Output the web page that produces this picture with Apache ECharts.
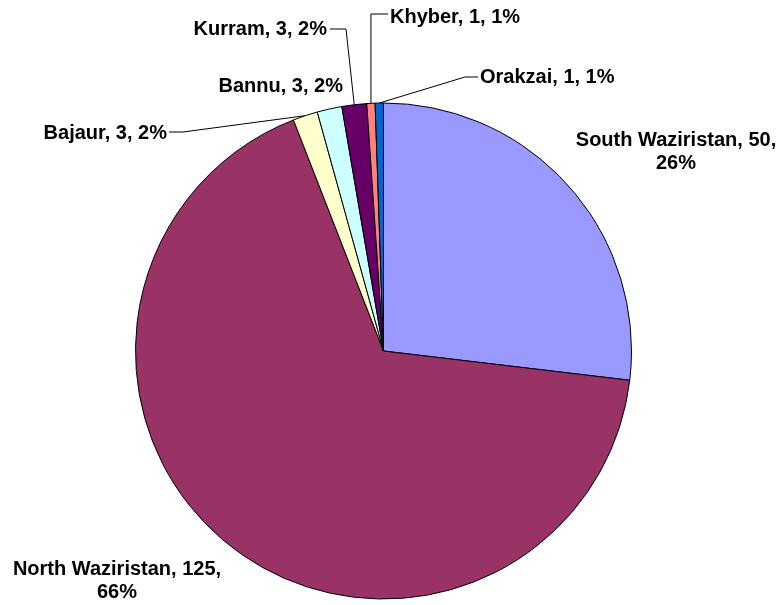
<!DOCTYPE html>
<html>
<head>
<meta charset="utf-8">
<script src="https://cdn.jsdelivr.net/npm/echarts@6/dist/echarts.min.js"></script>
<style>
  html, body { margin: 0; padding: 0; background: #fff; }
  #chart { width: 782px; height: 605px; }
</style>
</head>
<body>
<div id="chart"></div>
<script>
// ---- data ----
var categories = ['South Waziristan', 'North Waziristan', 'Bajaur', 'Bannu', 'Kurram', 'Khyber', 'Orakzai'];
var values = [50, 125, 3, 3, 3, 1, 1];
var percentLabels = ['26%', '66%', '2%', '2%', '2%', '1%', '1%'];
var colors = ['#9999FF', '#993366', '#FFFFCC', '#CCFFFF', '#660066', '#FF8080', '#0066CC'];
var twoLineLabels = [true, true, false, false, false, false, false];
var showLeader = [false, false, true, false, true, true, true];

// ---- label placement (layout only) ----
var labelPlacement = [
  { x: 676, y: 152, align: 'center' },
  { x: 117, y: 581, align: 'center' },
  { x: 167, y: 133, align: 'right', elbow: [183, 132], end: [169, 132] },
  { x: 343, y: 86, align: 'right' },
  { x: 327, y: 29, align: 'right', elbow: [346, 29], end: [330, 29] },
  { x: 390, y: 17, align: 'left', elbowY: 14, end: [388, 14] },
  { x: 480, y: 77.5, align: 'left', elbow: [465, 77], end: [478, 77] }
];

var chart = echarts.init(document.getElementById('chart'), null, { renderer: 'canvas' });

var data = categories.map(function (name, i) {
  return {
    name: name,
    value: values[i],
    itemStyle: { color: colors[i] },
    labelLine: { show: showLeader[i] }
  };
});

chart.setOption({
  animation: false,
  backgroundColor: '#ffffff',
  series: [{
    type: 'pie',
    center: [383.5, 351],
    radius: 248,
    startAngle: 90,
    clockwise: true,
    avoidLabelOverlap: false,
    data: data,
    itemStyle: { borderColor: '#000000', borderWidth: 1 },
    emphasis: { disabled: true },
    label: {
      show: true,
      position: 'outside',
      fontFamily: 'Liberation Sans, Arial, sans-serif',
      fontWeight: 'bold',
      fontSize: 20,
      lineHeight: 23,
      color: '#000000',
      formatter: function (p) {
        var i = p.dataIndex;
        return twoLineLabels[i]
          ? p.name + ', ' + p.value + ',\n' + percentLabels[i]
          : p.name + ', ' + p.value + ', ' + percentLabels[i];
      }
    },
    labelLine: {
      show: true,
      length: 10,
      length2: 10,
      lineStyle: { color: '#000000', width: 1 }
    },
    labelLayout: function (params) {
      var i = params.dataIndex;
      var pl = labelPlacement[i];
      var res = { x: pl.x, y: pl.y, align: pl.align, verticalAlign: 'middle', hideOverlap: false, moveOverlap: null };
      if (showLeader[i] && params.labelLinePoints && params.labelLinePoints.length) {
        var p0 = params.labelLinePoints[0];
        var elbow = pl.elbow ? pl.elbow : [p0[0], pl.elbowY];
        res.labelLinePoints = [[p0[0], p0[1]], elbow, pl.end];
      }
      return res;
    }
  }]
});
</script>
</body>
</html>
